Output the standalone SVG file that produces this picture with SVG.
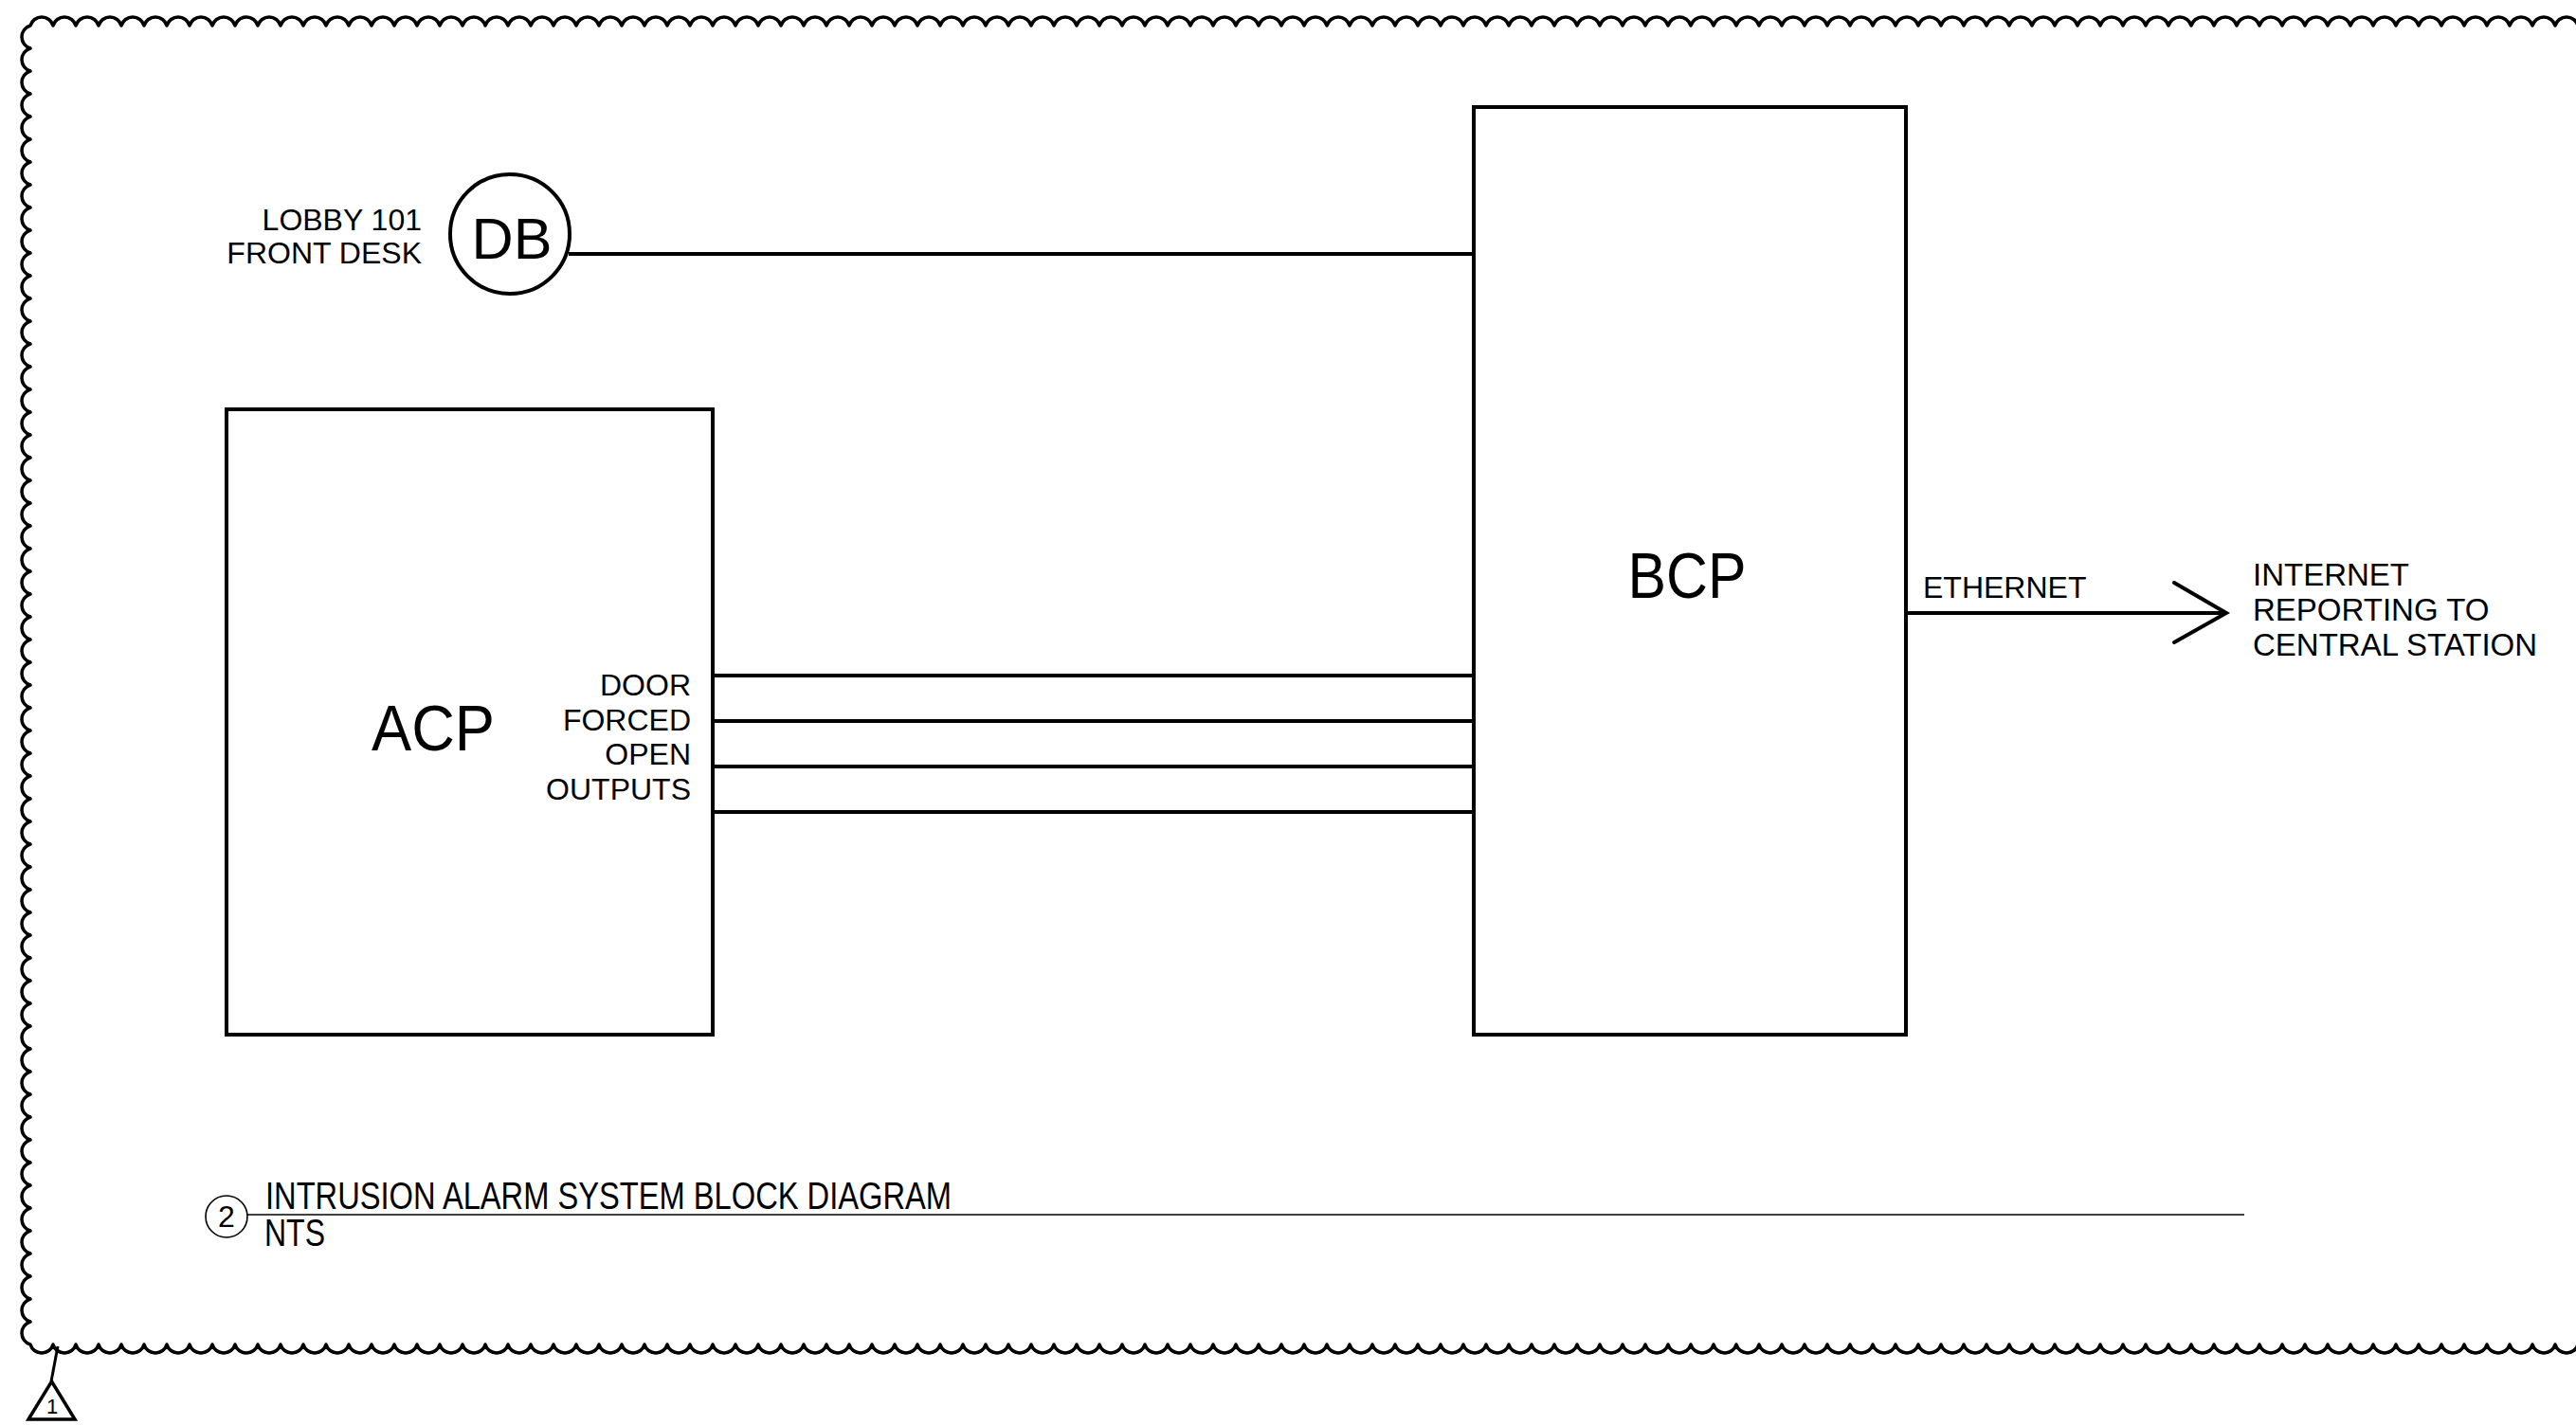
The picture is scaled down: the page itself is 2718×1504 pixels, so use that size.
<svg xmlns="http://www.w3.org/2000/svg" width="2718" height="1504" viewBox="0 0 2718 1504">
<style>
.bg{fill:#fff}
.cloud{fill:none;stroke:#000;stroke-width:3.5;stroke-linejoin:round}
.box{fill:none;stroke:#000;stroke-width:4}
.wire{fill:none;stroke:#000;stroke-width:4}
.thin{fill:none;stroke:#000;stroke-width:1.6}
.t{font-family:"Liberation Sans",Arial,Helvetica,sans-serif;fill:#000}
.s32{font-size:32px}
.end{text-anchor:end}
.mid{text-anchor:middle}
</style>
<rect class="bg" x="0" y="0" width="2718" height="1504"/>
<g id="revision-cloud">
<path class="cloud" d="M32 27
a12.5 12.5 0 0 1 24 0 a12.5 12.5 0 0 1 24 0 a12.5 12.5 0 0 1 24 0 a12.5 12.5 0 0 1 24 0 a12.5 12.5 0 0 1 24 0 a12.5 12.5 0 0 1 24 0 a12.5 12.5 0 0 1 24 0 a12.5 12.5 0 0 1 24 0
a12.5 12.5 0 0 1 24 0 a12.5 12.5 0 0 1 24 0 a12.5 12.5 0 0 1 24 0 a12.5 12.5 0 0 1 24 0 a12.5 12.5 0 0 1 24 0 a12.5 12.5 0 0 1 24 0 a12.5 12.5 0 0 1 24 0 a12.5 12.5 0 0 1 24 0
a12.5 12.5 0 0 1 24 0 a12.5 12.5 0 0 1 24 0 a12.5 12.5 0 0 1 24 0 a12.5 12.5 0 0 1 24 0 a12.5 12.5 0 0 1 24 0 a12.5 12.5 0 0 1 24 0 a12.5 12.5 0 0 1 24 0 a12.5 12.5 0 0 1 24 0
a12.5 12.5 0 0 1 24 0 a12.5 12.5 0 0 1 24 0 a12.5 12.5 0 0 1 24 0 a12.5 12.5 0 0 1 24 0 a12.5 12.5 0 0 1 24 0 a12.5 12.5 0 0 1 24 0 a12.5 12.5 0 0 1 24 0 a12.5 12.5 0 0 1 24 0
a12.5 12.5 0 0 1 24 0 a12.5 12.5 0 0 1 24 0 a12.5 12.5 0 0 1 24 0 a12.5 12.5 0 0 1 24 0 a12.5 12.5 0 0 1 24 0 a12.5 12.5 0 0 1 24 0 a12.5 12.5 0 0 1 24 0 a12.5 12.5 0 0 1 24 0
a12.5 12.5 0 0 1 24 0 a12.5 12.5 0 0 1 24 0 a12.5 12.5 0 0 1 24 0 a12.5 12.5 0 0 1 24 0 a12.5 12.5 0 0 1 24 0 a12.5 12.5 0 0 1 24 0 a12.5 12.5 0 0 1 24 0 a12.5 12.5 0 0 1 24 0
a12.5 12.5 0 0 1 24 0 a12.5 12.5 0 0 1 24 0 a12.5 12.5 0 0 1 24 0 a12.5 12.5 0 0 1 24 0 a12.5 12.5 0 0 1 24 0 a12.5 12.5 0 0 1 24 0 a12.5 12.5 0 0 1 24 0 a12.5 12.5 0 0 1 24 0
a12.5 12.5 0 0 1 24 0 a12.5 12.5 0 0 1 24 0 a12.5 12.5 0 0 1 24 0 a12.5 12.5 0 0 1 24 0 a12.5 12.5 0 0 1 24 0 a12.5 12.5 0 0 1 24 0 a12.5 12.5 0 0 1 24 0 a12.5 12.5 0 0 1 24 0
a12.5 12.5 0 0 1 24 0 a12.5 12.5 0 0 1 24 0 a12.5 12.5 0 0 1 24 0 a12.5 12.5 0 0 1 24 0 a12.5 12.5 0 0 1 24 0 a12.5 12.5 0 0 1 24 0 a12.5 12.5 0 0 1 24 0 a12.5 12.5 0 0 1 24 0
a12.5 12.5 0 0 1 24 0 a12.5 12.5 0 0 1 24 0 a12.5 12.5 0 0 1 24 0 a12.5 12.5 0 0 1 24 0 a12.5 12.5 0 0 1 24 0 a12.5 12.5 0 0 1 24 0 a12.5 12.5 0 0 1 24 0 a12.5 12.5 0 0 1 24 0
a12.5 12.5 0 0 1 24 0 a12.5 12.5 0 0 1 24 0 a12.5 12.5 0 0 1 24 0 a12.5 12.5 0 0 1 24 0 a12.5 12.5 0 0 1 24 0 a12.5 12.5 0 0 1 24 0 a12.5 12.5 0 0 1 24 0 a12.5 12.5 0 0 1 24 0
a12.5 12.5 0 0 1 24 0 a12.5 12.5 0 0 1 24 0 a12.5 12.5 0 0 1 24 0 a12.5 12.5 0 0 1 24 0 a12.5 12.5 0 0 1 24 0 a12.5 12.5 0 0 1 24 0 a12.5 12.5 0 0 1 24 0 a12.5 12.5 0 0 1 24 0
a12.5 12.5 0 0 1 24 0 a12.5 12.5 0 0 1 24 0 a12.5 12.5 0 0 1 24 0 a12.5 12.5 0 0 1 24 0 a12.5 12.5 0 0 1 24 0 a12.5 12.5 0 0 1 24 0 a12.5 12.5 0 0 1 24 0 a12.5 12.5 0 0 1 24 0
a12.5 12.5 0 0 1 24 0 a12.5 12.5 0 0 1 24 0 a12.5 12.5 0 0 1 24 0 a12.5 12.5 0 0 1 24 0 a12.5 12.5 0 0 1 24 0 a12.5 12.5 0 0 1 24 0 a12.5 12.5 0 0 1 24 0 a12.5 12.5 0 0 1 24 0
a12.5 12.5 0 0 1 0 24 a12.5 12.5 0 0 1 0 24 a12.5 12.5 0 0 1 0 24 a12.5 12.5 0 0 1 0 24 a12.5 12.5 0 0 1 0 24 a12.5 12.5 0 0 1 0 24 a12.5 12.5 0 0 1 0 24 a12.5 12.5 0 0 1 0 24
a12.5 12.5 0 0 1 0 24 a12.5 12.5 0 0 1 0 24 a12.5 12.5 0 0 1 0 24 a12.5 12.5 0 0 1 0 24 a12.5 12.5 0 0 1 0 24 a12.5 12.5 0 0 1 0 24 a12.5 12.5 0 0 1 0 24 a12.5 12.5 0 0 1 0 24
a12.5 12.5 0 0 1 0 24 a12.5 12.5 0 0 1 0 24 a12.5 12.5 0 0 1 0 24 a12.5 12.5 0 0 1 0 24 a12.5 12.5 0 0 1 0 24 a12.5 12.5 0 0 1 0 24 a12.5 12.5 0 0 1 0 24 a12.5 12.5 0 0 1 0 24
a12.5 12.5 0 0 1 0 24 a12.5 12.5 0 0 1 0 24 a12.5 12.5 0 0 1 0 24 a12.5 12.5 0 0 1 0 24 a12.5 12.5 0 0 1 0 24 a12.5 12.5 0 0 1 0 24 a12.5 12.5 0 0 1 0 24 a12.5 12.5 0 0 1 0 24
a12.5 12.5 0 0 1 0 24 a12.5 12.5 0 0 1 0 24 a12.5 12.5 0 0 1 0 24 a12.5 12.5 0 0 1 0 24 a12.5 12.5 0 0 1 0 24 a12.5 12.5 0 0 1 0 24 a12.5 12.5 0 0 1 0 24 a12.5 12.5 0 0 1 0 24
a12.5 12.5 0 0 1 0 24 a12.5 12.5 0 0 1 0 24 a12.5 12.5 0 0 1 0 24 a12.5 12.5 0 0 1 0 24 a12.5 12.5 0 0 1 0 24 a12.5 12.5 0 0 1 0 24 a12.5 12.5 0 0 1 0 24 a12.5 12.5 0 0 1 0 24
a12.5 12.5 0 0 1 0 24 a12.5 12.5 0 0 1 0 24 a12.5 12.5 0 0 1 0 24 a12.5 12.5 0 0 1 0 24 a12.5 12.5 0 0 1 0 24 a12.5 12.5 0 0 1 0 24 a12.5 12.5 0 0 1 0 24 a12.5 12.5 0 0 1 0 24
a12.5 12.5 0 0 1 0 24 a12.5 12.5 0 0 1 0 24
a12.5 12.5 0 0 1 -24 0 a12.5 12.5 0 0 1 -24 0 a12.5 12.5 0 0 1 -24 0 a12.5 12.5 0 0 1 -24 0 a12.5 12.5 0 0 1 -24 0 a12.5 12.5 0 0 1 -24 0 a12.5 12.5 0 0 1 -24 0 a12.5 12.5 0 0 1 -24 0
a12.5 12.5 0 0 1 -24 0 a12.5 12.5 0 0 1 -24 0 a12.5 12.5 0 0 1 -24 0 a12.5 12.5 0 0 1 -24 0 a12.5 12.5 0 0 1 -24 0 a12.5 12.5 0 0 1 -24 0 a12.5 12.5 0 0 1 -24 0 a12.5 12.5 0 0 1 -24 0
a12.5 12.5 0 0 1 -24 0 a12.5 12.5 0 0 1 -24 0 a12.5 12.5 0 0 1 -24 0 a12.5 12.5 0 0 1 -24 0 a12.5 12.5 0 0 1 -24 0 a12.5 12.5 0 0 1 -24 0 a12.5 12.5 0 0 1 -24 0 a12.5 12.5 0 0 1 -24 0
a12.5 12.5 0 0 1 -24 0 a12.5 12.5 0 0 1 -24 0 a12.5 12.5 0 0 1 -24 0 a12.5 12.5 0 0 1 -24 0 a12.5 12.5 0 0 1 -24 0 a12.5 12.5 0 0 1 -24 0 a12.5 12.5 0 0 1 -24 0 a12.5 12.5 0 0 1 -24 0
a12.5 12.5 0 0 1 -24 0 a12.5 12.5 0 0 1 -24 0 a12.5 12.5 0 0 1 -24 0 a12.5 12.5 0 0 1 -24 0 a12.5 12.5 0 0 1 -24 0 a12.5 12.5 0 0 1 -24 0 a12.5 12.5 0 0 1 -24 0 a12.5 12.5 0 0 1 -24 0
a12.5 12.5 0 0 1 -24 0 a12.5 12.5 0 0 1 -24 0 a12.5 12.5 0 0 1 -24 0 a12.5 12.5 0 0 1 -24 0 a12.5 12.5 0 0 1 -24 0 a12.5 12.5 0 0 1 -24 0 a12.5 12.5 0 0 1 -24 0 a12.5 12.5 0 0 1 -24 0
a12.5 12.5 0 0 1 -24 0 a12.5 12.5 0 0 1 -24 0 a12.5 12.5 0 0 1 -24 0 a12.5 12.5 0 0 1 -24 0 a12.5 12.5 0 0 1 -24 0 a12.5 12.5 0 0 1 -24 0 a12.5 12.5 0 0 1 -24 0 a12.5 12.5 0 0 1 -24 0
a12.5 12.5 0 0 1 -24 0 a12.5 12.5 0 0 1 -24 0 a12.5 12.5 0 0 1 -24 0 a12.5 12.5 0 0 1 -24 0 a12.5 12.5 0 0 1 -24 0 a12.5 12.5 0 0 1 -24 0 a12.5 12.5 0 0 1 -24 0 a12.5 12.5 0 0 1 -24 0
a12.5 12.5 0 0 1 -24 0 a12.5 12.5 0 0 1 -24 0 a12.5 12.5 0 0 1 -24 0 a12.5 12.5 0 0 1 -24 0 a12.5 12.5 0 0 1 -24 0 a12.5 12.5 0 0 1 -24 0 a12.5 12.5 0 0 1 -24 0 a12.5 12.5 0 0 1 -24 0
a12.5 12.5 0 0 1 -24 0 a12.5 12.5 0 0 1 -24 0 a12.5 12.5 0 0 1 -24 0 a12.5 12.5 0 0 1 -24 0 a12.5 12.5 0 0 1 -24 0 a12.5 12.5 0 0 1 -24 0 a12.5 12.5 0 0 1 -24 0 a12.5 12.5 0 0 1 -24 0
a12.5 12.5 0 0 1 -24 0 a12.5 12.5 0 0 1 -24 0 a12.5 12.5 0 0 1 -24 0 a12.5 12.5 0 0 1 -24 0 a12.5 12.5 0 0 1 -24 0 a12.5 12.5 0 0 1 -24 0 a12.5 12.5 0 0 1 -24 0 a12.5 12.5 0 0 1 -24 0
a12.5 12.5 0 0 1 -24 0 a12.5 12.5 0 0 1 -24 0 a12.5 12.5 0 0 1 -24 0 a12.5 12.5 0 0 1 -24 0 a12.5 12.5 0 0 1 -24 0 a12.5 12.5 0 0 1 -24 0 a12.5 12.5 0 0 1 -24 0 a12.5 12.5 0 0 1 -24 0
a12.5 12.5 0 0 1 -24 0 a12.5 12.5 0 0 1 -24 0 a12.5 12.5 0 0 1 -24 0 a12.5 12.5 0 0 1 -24 0 a12.5 12.5 0 0 1 -24 0 a12.5 12.5 0 0 1 -24 0 a12.5 12.5 0 0 1 -24 0 a12.5 12.5 0 0 1 -24 0
a12.5 12.5 0 0 1 -24 0 a12.5 12.5 0 0 1 -24 0 a12.5 12.5 0 0 1 -24 0 a12.5 12.5 0 0 1 -24 0 a12.5 12.5 0 0 1 -24 0 a12.5 12.5 0 0 1 -24 0 a12.5 12.5 0 0 1 -24 0 a12.5 12.5 0 0 1 -24 0
a12.5 12.5 0 0 1 0 -24 a12.5 12.5 0 0 1 0 -24 a12.5 12.5 0 0 1 0 -24 a12.5 12.5 0 0 1 0 -24 a12.5 12.5 0 0 1 0 -24 a12.5 12.5 0 0 1 0 -24 a12.5 12.5 0 0 1 0 -24 a12.5 12.5 0 0 1 0 -24
a12.5 12.5 0 0 1 0 -24 a12.5 12.5 0 0 1 0 -24 a12.5 12.5 0 0 1 0 -24 a12.5 12.5 0 0 1 0 -24 a12.5 12.5 0 0 1 0 -24 a12.5 12.5 0 0 1 0 -24 a12.5 12.5 0 0 1 0 -24 a12.5 12.5 0 0 1 0 -24
a12.5 12.5 0 0 1 0 -24 a12.5 12.5 0 0 1 0 -24 a12.5 12.5 0 0 1 0 -24 a12.5 12.5 0 0 1 0 -24 a12.5 12.5 0 0 1 0 -24 a12.5 12.5 0 0 1 0 -24 a12.5 12.5 0 0 1 0 -24 a12.5 12.5 0 0 1 0 -24
a12.5 12.5 0 0 1 0 -24 a12.5 12.5 0 0 1 0 -24 a12.5 12.5 0 0 1 0 -24 a12.5 12.5 0 0 1 0 -24 a12.5 12.5 0 0 1 0 -24 a12.5 12.5 0 0 1 0 -24 a12.5 12.5 0 0 1 0 -24 a12.5 12.5 0 0 1 0 -24
a12.5 12.5 0 0 1 0 -24 a12.5 12.5 0 0 1 0 -24 a12.5 12.5 0 0 1 0 -24 a12.5 12.5 0 0 1 0 -24 a12.5 12.5 0 0 1 0 -24 a12.5 12.5 0 0 1 0 -24 a12.5 12.5 0 0 1 0 -24 a12.5 12.5 0 0 1 0 -24
a12.5 12.5 0 0 1 0 -24 a12.5 12.5 0 0 1 0 -24 a12.5 12.5 0 0 1 0 -24 a12.5 12.5 0 0 1 0 -24 a12.5 12.5 0 0 1 0 -24 a12.5 12.5 0 0 1 0 -24 a12.5 12.5 0 0 1 0 -24 a12.5 12.5 0 0 1 0 -24
a12.5 12.5 0 0 1 0 -24 a12.5 12.5 0 0 1 0 -24 a12.5 12.5 0 0 1 0 -24 a12.5 12.5 0 0 1 0 -24 a12.5 12.5 0 0 1 0 -24 a12.5 12.5 0 0 1 0 -24 a12.5 12.5 0 0 1 0 -24 a12.5 12.5 0 0 1 0 -24
a12.5 12.5 0 0 1 0 -24 a12.5 12.5 0 0 1 0 -24 Z"/>
</g>
<g id="revision-tag">
<path class="wire" style="stroke-width:3" d="M61 1421 L54 1458"/>
<path fill="#fff" stroke="#000" stroke-width="3.5" stroke-linejoin="miter" d="M54.5 1458 L79 1498 L30 1498 Z"/>
<text class="t mid" x="55" y="1492" font-size="22">1</text>
</g>
<g id="connectors">
<line class="wire" x1="600" y1="268" x2="1555" y2="268"/>
<line class="wire" x1="752" y1="713" x2="1555" y2="713"/>
<line class="wire" x1="752" y1="761" x2="1555" y2="761"/>
<line class="wire" x1="752" y1="809" x2="1555" y2="809"/>
<line class="wire" x1="752" y1="857" x2="1555" y2="857"/>
<line class="wire" x1="2011" y1="647" x2="2349" y2="647"/>
<path class="wire" stroke-linecap="round" stroke-linejoin="miter" d="M2294 615 L2349 647 L2294 678"/>
</g>
<g id="node-db">
<circle cx="538" cy="247" r="63" fill="none" stroke="#000" stroke-width="4"/>
<text class="t mid" x="540" y="273" font-size="62" textLength="85" lengthAdjust="spacingAndGlyphs">DB</text>
<text class="t s32 end" x="445" y="243">LOBBY 101</text>
<text class="t s32 end" x="445" y="278">FRONT DESK</text>
</g>
<g id="node-acp">
<rect class="box" x="239" y="432" width="513" height="660"/>
<text class="t mid" x="457" y="792" font-size="68" textLength="130" lengthAdjust="spacingAndGlyphs">ACP</text>
<text class="t s32 end" x="729" y="734">DOOR</text>
<text class="t s32 end" x="729" y="771">FORCED</text>
<text class="t s32 end" x="729" y="807">OPEN</text>
<text class="t s32 end" x="729" y="844">OUTPUTS</text>
</g>
<g id="node-bcp">
<rect class="box" x="1555" y="113" width="456" height="979"/>
<text class="t mid" x="1780" y="631" font-size="68" textLength="125" lengthAdjust="spacingAndGlyphs">BCP</text>
</g>
<g id="label-ethernet">
<text class="t s32" x="2029" y="631">ETHERNET</text>
</g>
<g id="node-internet">
<text class="t" x="2377" y="618" font-size="33">INTERNET</text>
<text class="t" x="2377" y="655" font-size="33">REPORTING TO</text>
<text class="t" x="2377" y="692" font-size="33">CENTRAL STATION</text>
</g>
<g id="title-block">
<circle cx="239" cy="1284" r="22" fill="none" stroke="#000" stroke-width="1.6"/>
<text class="t mid" x="239" y="1295" font-size="32">2</text>
<line class="thin" x1="261" y1="1282" x2="2368" y2="1282" stroke="#444"/>
<text class="t" x="280" y="1276" font-size="41" textLength="724" lengthAdjust="spacingAndGlyphs">INTRUSION ALARM SYSTEM BLOCK DIAGRAM</text>
<text class="t" x="279" y="1315" font-size="41" textLength="64" lengthAdjust="spacingAndGlyphs">NTS</text>
</g>
</svg>
